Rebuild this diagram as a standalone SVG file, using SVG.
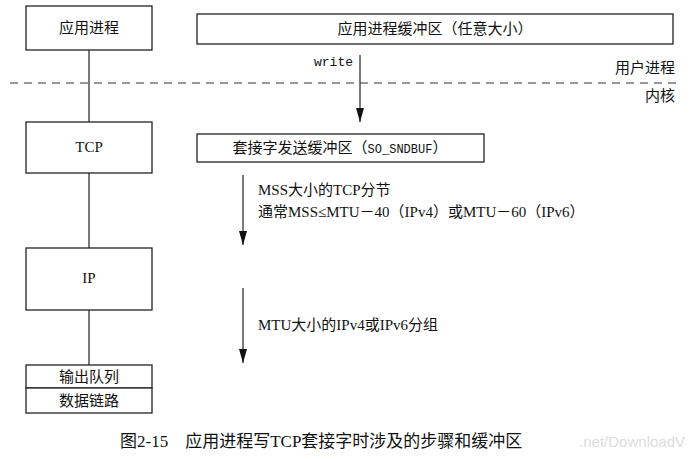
<svg xmlns="http://www.w3.org/2000/svg" width="695" height="459" viewBox="0 0 695 459">
<style>
.b{fill:#fff;stroke:#222;stroke-width:1.3}
.l{stroke:#222;stroke-width:1.2;fill:none}
.t{font-family:"Liberation Serif","Noto Sans CJK SC",serif;font-size:15px;fill:#111}
.m{font-family:"Liberation Mono",monospace;font-size:13px;fill:#111}
</style>
<defs>
<marker id="d" viewBox="0 0 14 8" markerWidth="14" markerHeight="8" refX="14" refY="4" orient="auto" markerUnits="userSpaceOnUse"><path d="M0,0 L14,4 L0,8 Z" fill="#111"/></marker></defs>
<g id="connectors">
<line class="l" x1="89" y1="50" x2="89" y2="122"/>
<line class="l" x1="89" y1="173" x2="89" y2="248"/>
<line class="l" x1="89" y1="310" x2="89" y2="365"/>
<line class="l" x1="360" y1="55" x2="360" y2="122" marker-end="url(#d)"/>
<line class="l" x1="243" y1="175" x2="243" y2="245" marker-end="url(#d)"/>
<line class="l" x1="243" y1="288" x2="243" y2="363" marker-end="url(#d)"/>
<line x1="10" y1="83" x2="682" y2="83" stroke="#333" stroke-width="1.2" stroke-dasharray="8,6"/>
</g>
<g id="app"><rect class="b" x="26" y="6" width="126" height="44"/><text class="t" x="89" y="33" text-anchor="middle">应用进程</text></g>
<g id="appbuf"><rect class="b" x="197" y="14" width="476" height="30"/><text class="t" x="435" y="34" text-anchor="middle">应用进程缓冲区（任意大小）</text></g>
<text class="m" x="353" y="66" text-anchor="end">write</text>
<text class="t" x="675" y="73" text-anchor="end">用户进程</text>
<text class="t" x="675" y="101" text-anchor="end">内核</text>
<g id="tcp"><rect class="b" x="26" y="122" width="126" height="51"/><text class="t" x="89" y="152" text-anchor="middle">TCP</text></g>
<g id="sndbuf"><rect class="b" x="197" y="134" width="287" height="28"/><text class="t" x="340" y="153" text-anchor="middle">套接字发送缓冲区（<tspan class="m" style="font-size:12px">SO_SNDBUF</tspan>）</text></g>
<text class="t" x="258" y="195">MSS大小的TCP分节</text>
<text class="t" x="258" y="217">通常MSS≤MTU－40（IPv4）或MTU－60（IPv6）</text>
<g id="ip"><rect class="b" x="26" y="248" width="126" height="62"/><text class="t" x="89" y="283" text-anchor="middle">IP</text></g>
<text class="t" x="258" y="330">MTU大小的IPv4或IPv6分组</text>
<g id="queue"><rect class="b" x="26" y="365" width="126" height="23"/><text class="t" x="89" y="382" text-anchor="middle">输出队列</text></g>
<g id="link"><rect class="b" x="26" y="388" width="126" height="25"/><text class="t" x="89" y="406" text-anchor="middle">数据链路</text></g>
<text class="t" x="120" y="447" style="font-size:17px">图2-15　应用进程写TCP套接字时涉及的步骤和缓冲区</text>
<text x="685" y="447" text-anchor="end" style="font-family:'Liberation Sans',sans-serif;font-size:15px;fill:#ddd">.net/DownloadV</text>
</svg>
